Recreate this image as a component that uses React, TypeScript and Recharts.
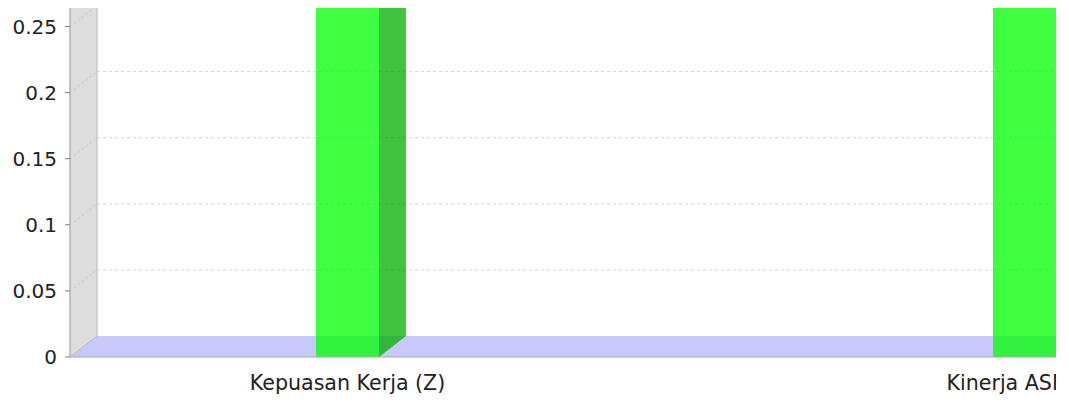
import { BarChart, Bar, XAxis, YAxis, CartesianGrid } from "recharts";

const categories = ["Kepuasan Kerja (Z)", "Kinerja ASN (Y)"];
const values = [0.42, 0.58];
const yTicks = [0, 0.05, 0.1, 0.15, 0.2, 0.25];

const data = categories.map((name, i) => ({ name, value: values[i] }));

// 3D depth of the plot (back wall offset)
const DX = 27;
const DY = 21;
const AXIS_W = 62;
const PLOT_H = 349;
const FONT = "'DejaVu Sans', sans-serif";

function Bar3D(props: any) {
  const { x, y, width, height } = props;
  if (width == null || height == null) return null;
  const r = x + width;
  const b = y + height;
  return (
    <g>
      <polygon
        points={`${x},${y} ${x + DX},${y - DY} ${r + DX},${y - DY} ${r},${y}`}
        fill="#00e000"
        fillOpacity={0.75}
      />
      <polygon
        points={`${r},${b} ${r + DX},${b - DY} ${r + DX},${y - DY} ${r},${y}`}
        fill="#00b000"
        fillOpacity={0.75}
      />
      <rect x={x} y={y} width={width} height={height} fill="#00ff00" fillOpacity={0.75} />
    </g>
  );
}

// floor + left wall, drawn from the zero grid line
function WallLine(props: any) {
  const { x1, x2, y1 } = props;
  if (y1 < PLOT_H - 2) return <g />;
  return (
    <g>
      <polygon
        points={`${x1},${y1} ${x1 + DX},${y1 - DY} ${x2},${y1 - DY} ${x2},${y1}`}
        fill="#c8c8fa"
      />
      <polygon
        points={`${x1},${y1} ${x1},${-40} ${x1 + DX},${-40} ${x1 + DX},${y1 - DY}`}
        fill="#dddddd"
        stroke="#b8b8b8"
        strokeWidth={1}
      />
    </g>
  );
}

function GridLine3D(props: any) {
  const { x1, x2, y1 } = props;
  if (y1 > PLOT_H - 2) return <g />;
  const yb = y1 - DY;
  return (
    <g>
      <line x1={x1} y1={y1} x2={x1 + DX} y2={yb} stroke="#c4c4c4" strokeDasharray="2 3" />
      <line x1={x1 + DX} y1={yb} x2={x2} y2={yb} stroke="#d4d4d4" strokeDasharray="3 3" />
    </g>
  );
}

function CategoryTick(props: any) {
  const { x, y, payload } = props;
  return (
    <text x={x} y={y} dy={25} textAnchor="middle" fill="#222" fontSize={20.6} fontFamily={FONT}>
      {payload.value}
    </text>
  );
}

export default function App() {
  return (
    <div style={{ width: 1048, height: 397, overflow: "hidden", background: "#fff" }}>
      <BarChart
        width={1355}
        height={397}
        data={data}
        margin={{ top: 0, right: 0, left: 0, bottom: 0 }}
        barSize={63}
      >
        <CartesianGrid vertical={false} horizontal={WallLine} />
        <CartesianGrid vertical={false} horizontal={GridLine3D} />
        <XAxis
          dataKey="name"
          height={48}
          padding={{ left: -61, right: 0 }}
          axisLine={{ stroke: "#a8a8a8" }}
          tickLine={false}
          interval={0}
          tick={<CategoryTick />}
        />
        <YAxis
          width={AXIS_W}
          domain={[0, 0.264]}
          ticks={yTicks}
          allowDataOverflow
          axisLine={{ stroke: "#b0b0b0" }}
          tickLine={{ stroke: "#808080" }}
          tickSize={5}
          tickMargin={8}
          tick={{ fill: "#222", fontSize: 20, fontFamily: FONT }}
        />
        <Bar dataKey="value" shape={<Bar3D />} isAnimationActive={false} />
      </BarChart>
    </div>
  );
}
